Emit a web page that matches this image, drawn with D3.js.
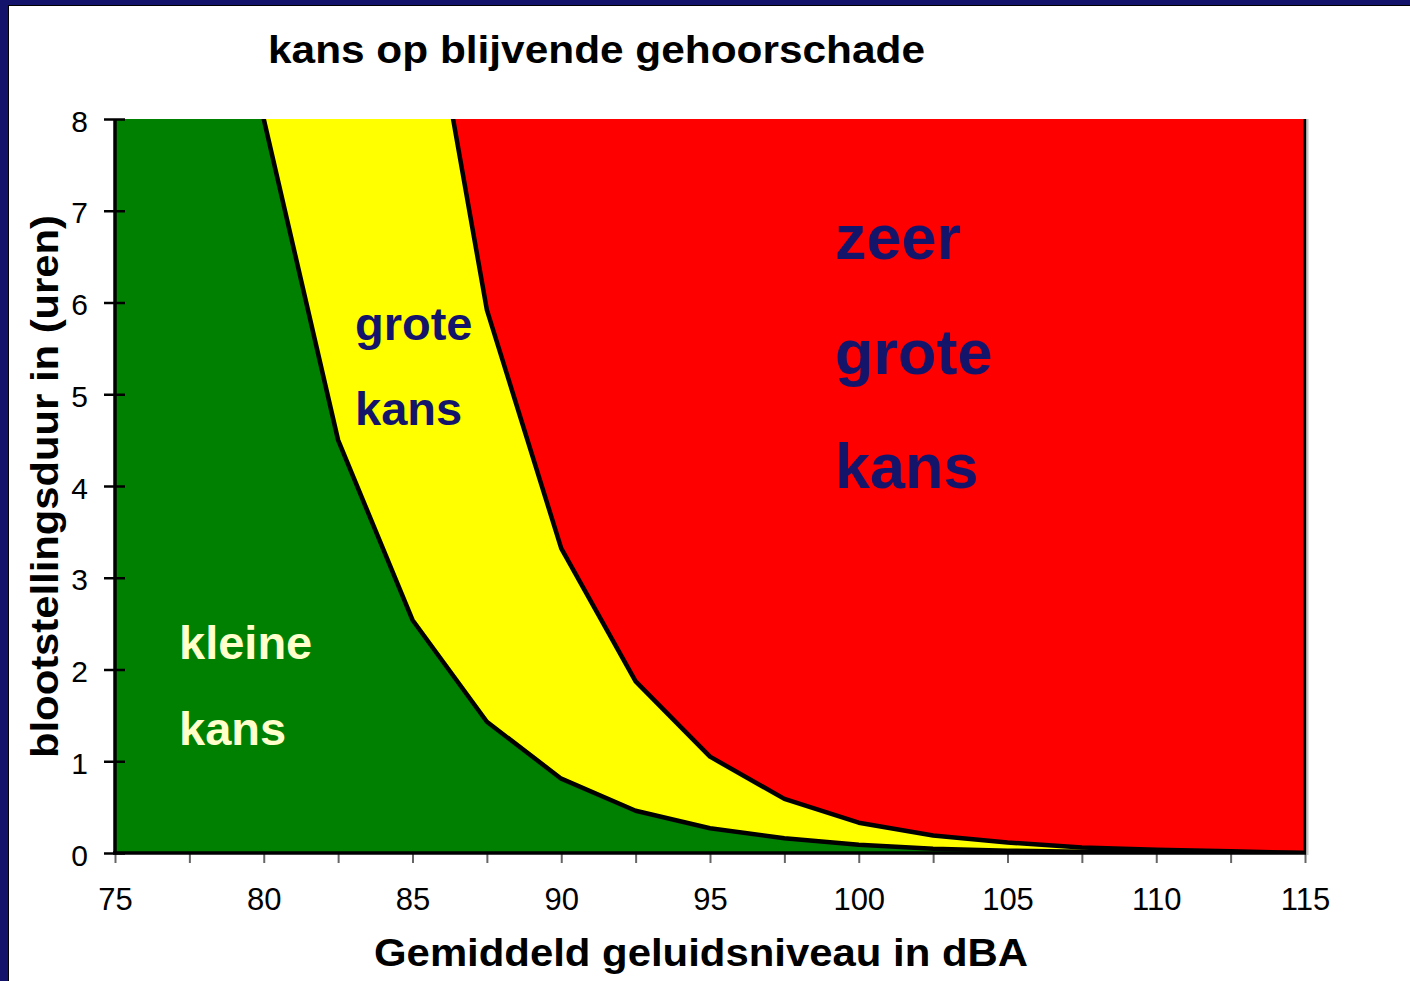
<!DOCTYPE html>
<html>
<head>
<meta charset="utf-8">
<script src="https://cdn.jsdelivr.net/npm/d3@7"></script>
<style>
  body { margin: 0; background: #13136b; }
  svg { display: block; }
  text { font-family: "Liberation Sans", Arial, sans-serif; }
</style>
</head>
<body>
<svg id="chart" width="1410" height="981"></svg>
<script>
// geluidsniveau (dBA) per punt
var levels = [75, 77.5, 80, 82.5, 85, 87.5, 90, 92.5, 95, 97.5, 100, 102.5, 105, 107.5, 110, 112.5, 115];
// grens kleine kans / grote kans (uren)
var smallRisk = [25, 16, 8, 4.5, 2.54, 1.43, 0.81, 0.46, 0.27, 0.16, 0.09, 0.045, 0.025, 0.014, 0.008, 0.004, 0];
// grens grote kans / zeer grote kans (uren)
var bigRisk = [50, 36, 26, 18.7, 10.5, 5.92, 3.32, 1.87, 1.05, 0.59, 0.33, 0.19, 0.115, 0.06, 0.035, 0.018, 0];

var xTicks = [75, 77.5, 80, 82.5, 85, 87.5, 90, 92.5, 95, 97.5, 100, 102.5, 105, 107.5, 110, 112.5, 115];
var xLabels = [75, 80, 85, 90, 95, 100, 105, 110, 115];
var yTicks = [0, 1, 2, 3, 4, 5, 6, 7, 8];

var title = "kans op blijvende gehoorschade";
var xTitle = "Gemiddeld geluidsniveau in dBA";
var yTitle = "blootstellingsduur in (uren)";

var navy = "#13136b";
var textNavy = "#14146a";

var svg = d3.select("#chart");

// frame
svg.append("rect").attr("width", 1410).attr("height", 981).attr("fill", navy);
svg.append("rect").attr("x", 8).attr("y", 5).attr("width", 1402).attr("height", 976)
  .attr("fill", "#000");
svg.append("rect").attr("x", 9).attr("y", 6).attr("width", 1401).attr("height", 975)
  .attr("fill", "#fff");

var x = d3.scaleLinear().domain([75, 115]).range([115, 1305]);
var y = d3.scaleLinear().domain([0, 8]).range([853, 119]);

var data = levels.map(function (d, i) { return {x: d, a: smallRisk[i], b: bigRisk[i]}; });

svg.append("clipPath").attr("id", "plotclip")
  .append("rect")
  .attr("x", x(75)).attr("y", y(8))
  .attr("width", x(115) - x(75)).attr("height", y(0) - y(8));

var plot = svg.append("g").attr("clip-path", "url(#plotclip)");

// zeer grote kans (achtergrond)
plot.append("path").datum(data)
  .attr("fill", "#ff0000")
  .attr("d", d3.area().x(function (d) { return x(d.x); }).y0(y(0)).y1(y(8)));

// grote kans
plot.append("path").datum(data)
  .attr("fill", "#ffff00")
  .attr("d", d3.area().x(function (d) { return x(d.x); }).y0(y(0)).y1(function (d) { return y(d.b); }));

// kleine kans
plot.append("path").datum(data)
  .attr("fill", "#008000")
  .attr("d", d3.area().x(function (d) { return x(d.x); }).y0(y(0)).y1(function (d) { return y(d.a); }));

var lineA = d3.line().x(function (d) { return x(d.x); }).y(function (d) { return y(d.a); });
var lineB = d3.line().x(function (d) { return x(d.x); }).y(function (d) { return y(d.b); });

plot.append("path").datum(data).attr("fill", "none").attr("stroke", "#000")
  .attr("stroke-width", 4.5).attr("stroke-linejoin", "round").attr("d", lineB);
plot.append("path").datum(data).attr("fill", "none").attr("stroke", "#000")
  .attr("stroke-width", 4.5).attr("stroke-linejoin", "round").attr("d", lineA);

// rechterrand
svg.append("line")
  .attr("x1", x(115)).attr("x2", x(115)).attr("y1", y(8)).attr("y2", y(0))
  .attr("stroke", "#000").attr("stroke-width", 3);
svg.append("line")
  .attr("x1", x(115) + 2.5).attr("x2", x(115) + 2.5).attr("y1", y(8)).attr("y2", y(0) + 2)
  .attr("stroke", "#c8c8c8").attr("stroke-width", 2);

// x-as
var xAxis = svg.append("g").attr("transform", "translate(0," + y(0) + ")")
  .call(d3.axisBottom(x).tickValues(xTicks).tickSize(10).tickPadding(25)
    .tickFormat(function (d) { return xLabels.indexOf(d) >= 0 ? d : ""; }));
xAxis.select(".domain").remove();
xAxis.selectAll(".tick line").attr("stroke", "#666").attr("stroke-width", 2);
xAxis.selectAll(".tick text").attr("font-size", 31).attr("fill", "#000")
  .style("font-family", "'Liberation Sans', Arial, sans-serif");
svg.append("line")
  .attr("x1", x(75) - 2).attr("x2", x(115) + 1).attr("y1", y(0)).attr("y2", y(0))
  .attr("stroke", "#000").attr("stroke-width", 3.5);

// y-as
var yAxis = svg.append("g").attr("transform", "translate(" + x(75) + ",0)")
  .call(d3.axisLeft(y).tickValues(yTicks).tickSize(11).tickPadding(16));
yAxis.select(".domain").remove();
yAxis.selectAll(".tick line").attr("x2", -11).attr("x1", 10)
  .attr("stroke", "#000").attr("stroke-width", 2.5);
yAxis.selectAll(".tick text").attr("font-size", 30).attr("fill", "#000")
  .attr("dy", "0.4em")
  .style("font-family", "'Liberation Sans', Arial, sans-serif");
svg.append("line")
  .attr("x1", x(75)).attr("x2", x(75)).attr("y1", y(8)).attr("y2", y(0) + 1)
  .attr("stroke", "#000").attr("stroke-width", 3.5);

// titels
svg.append("text").attr("x", 268).attr("y", 63)
  .attr("font-size", 38).attr("font-weight", "bold").attr("fill", "#000")
  .attr("textLength", 657).attr("lengthAdjust", "spacingAndGlyphs")
  .text(title);

svg.append("text").attr("x", 374).attr("y", 966)
  .attr("font-size", 38).attr("font-weight", "bold").attr("fill", "#000")
  .attr("textLength", 654).attr("lengthAdjust", "spacingAndGlyphs")
  .text(xTitle);

svg.append("text")
  .attr("transform", "translate(58,758) rotate(-90)")
  .attr("font-size", 38).attr("font-weight", "bold").attr("fill", "#000")
  .attr("textLength", 543).attr("lengthAdjust", "spacingAndGlyphs")
  .text(yTitle);

// gebiedslabels
function label(lines, px, baselines, size, color) {
  lines.forEach(function (t, i) {
    svg.append("text").attr("x", px).attr("y", baselines[i])
      .attr("font-size", size).attr("font-weight", "bold").attr("fill", color)
      .text(t);
  });
}
label(["zeer", "grote", "kans"], 835, [259, 374, 488], 63, textNavy);
label(["grote", "kans"], 355, [340, 425], 47, textNavy);
label(["kleine", "kans"], 179, [659, 745], 47, "#ffffcc");
</script>
</body>
</html>
